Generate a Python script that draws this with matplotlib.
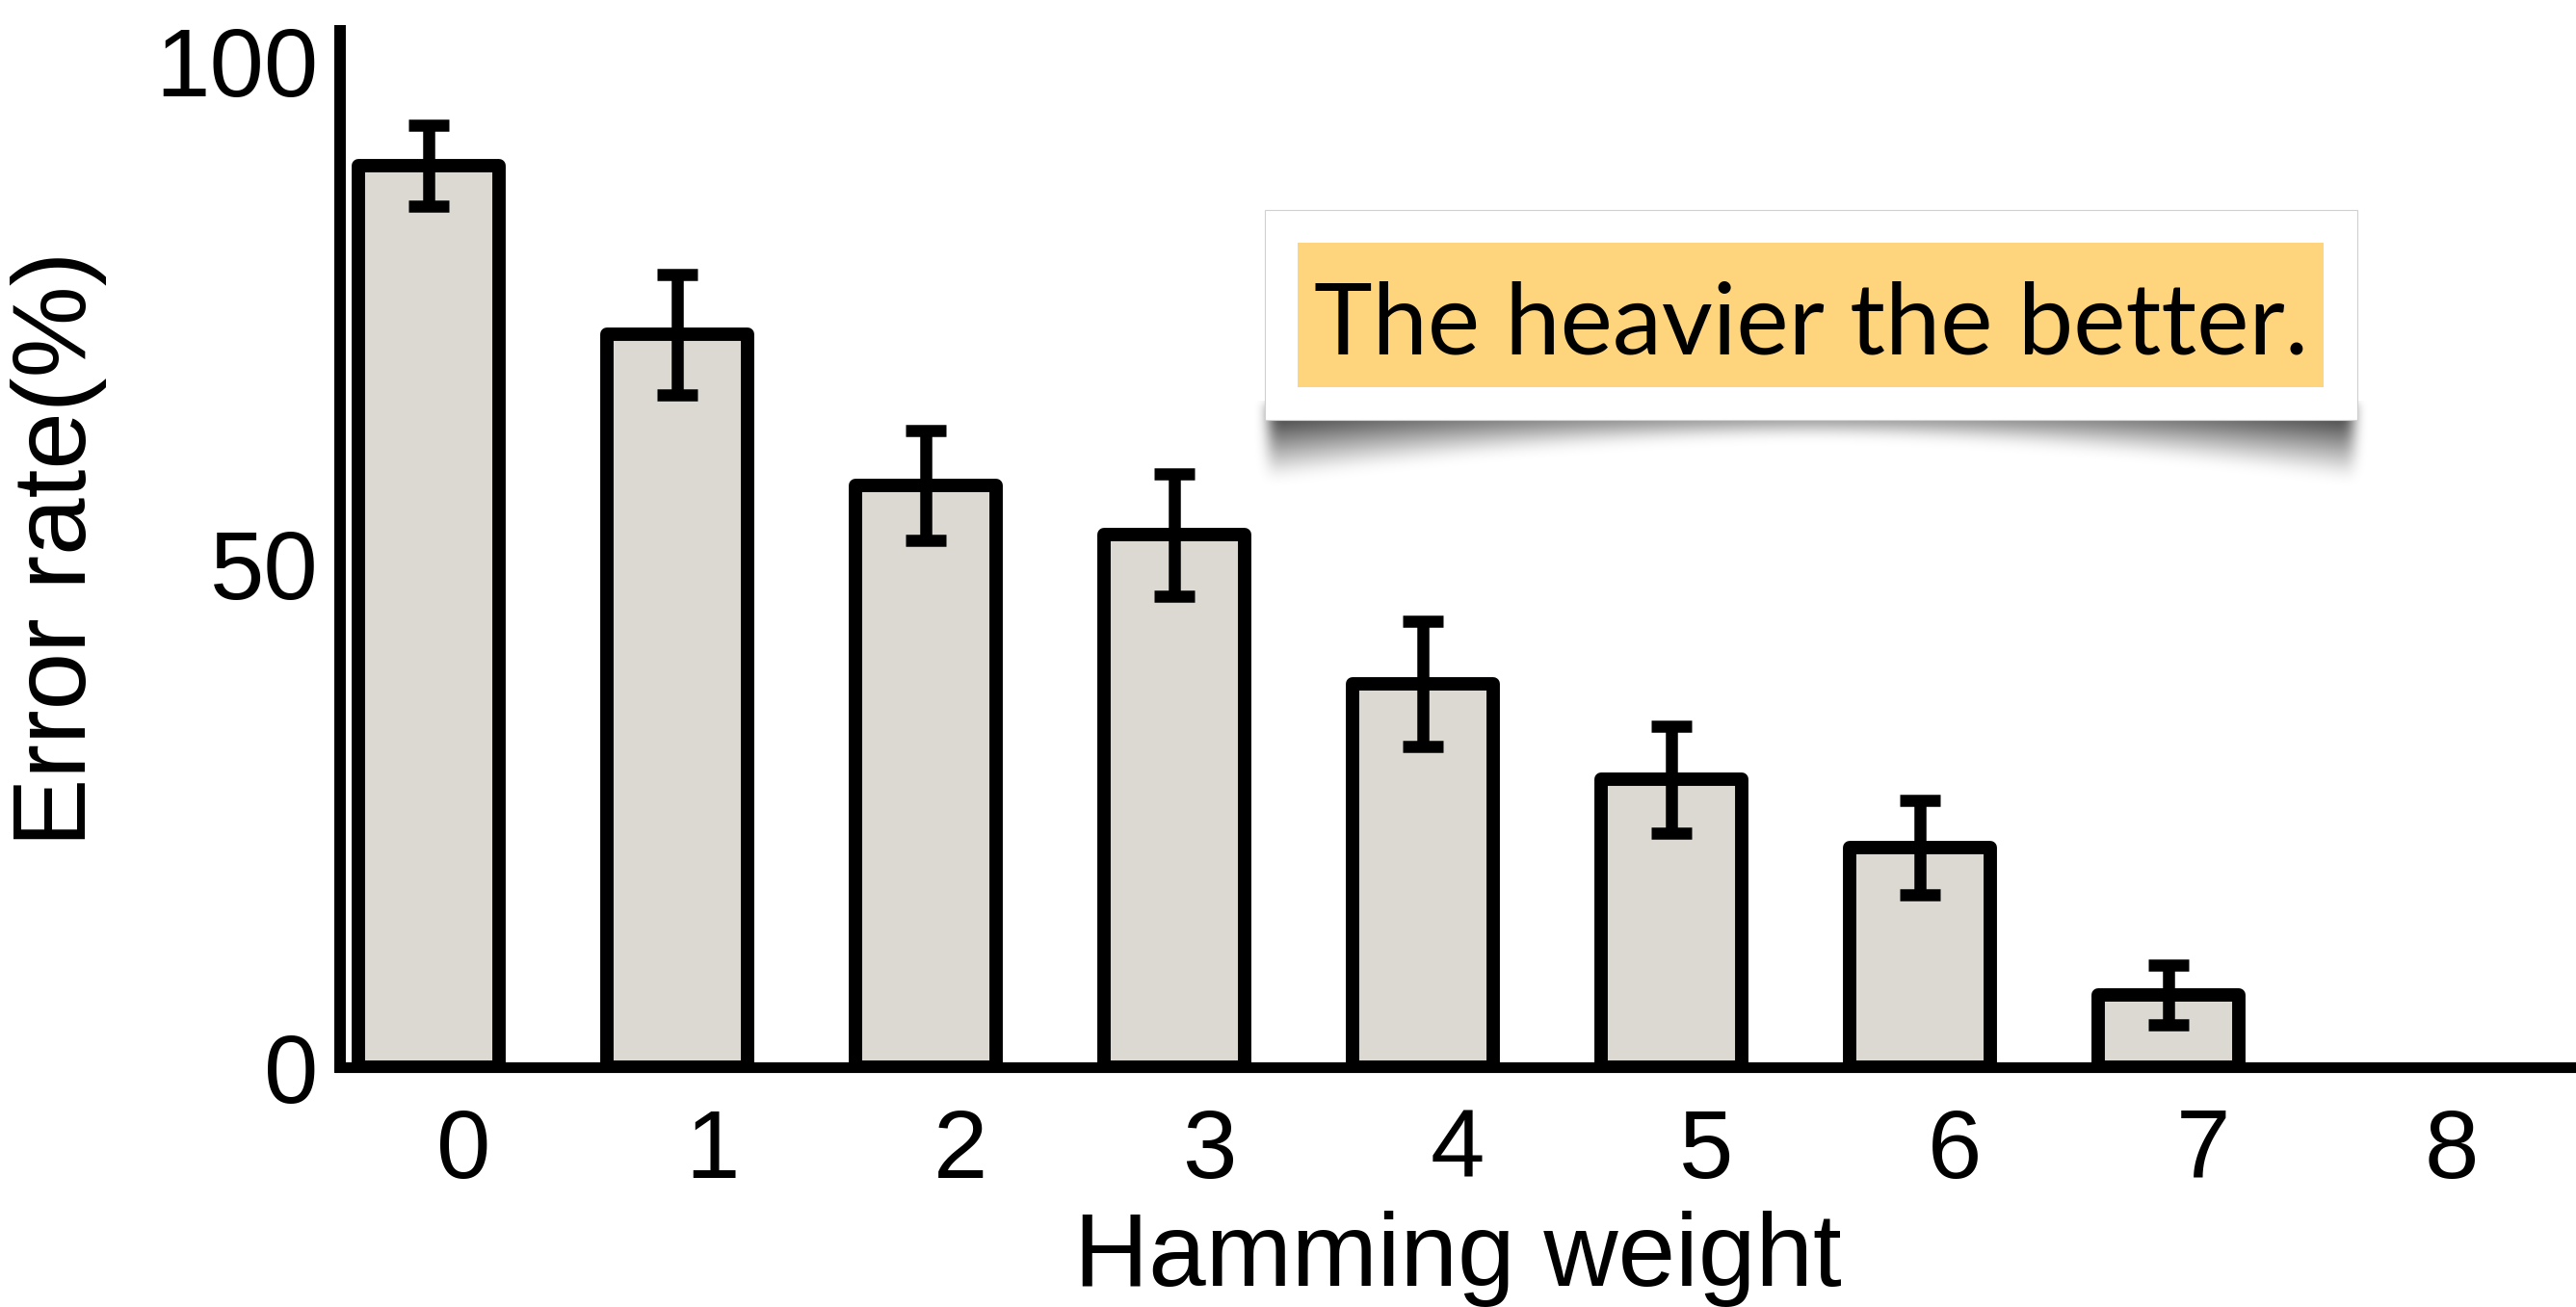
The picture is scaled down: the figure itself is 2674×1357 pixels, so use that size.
import numpy as np
import matplotlib.pyplot as plt
import matplotlib.transforms as mtransforms
from matplotlib.patches import Rectangle

# Данные
hamming_weight = [0, 1, 2, 3, 4, 5, 6, 7, 8]
error_rate = [89.6, 72.8, 57.8, 52.9, 38.1, 28.6, 21.8, 7.2, 0.0]
error_err = [4.0, 5.95, 5.45, 6.1, 6.2, 5.3, 4.7, 2.95, 0.0]
y_ticks = [0, 50, 100]
note_text = 'The heavier the better.'

W, H = 2674, 1357
fig = plt.figure(figsize=(W / 100, H / 100), dpi=100)
plt.rcParams['font.family'] = ['Liberation Sans', 'DejaVu Sans']

ax = fig.add_axes([353 / W, 1 - 1108 / H, 1 - 353 / W, (1108 - 32) / H])

x = np.array(hamming_weight)
y = np.array(error_rate)
e = np.array(error_err)
shown = y > 0

ax.bar(x[shown], y[shown], width=0.567, color='#dcd9d3', edgecolor='black',
       linewidth=10, joinstyle='round', zorder=2)
has_err = e > 0
ax.errorbar(x[has_err], y[has_err], yerr=e[has_err], fmt='none', ecolor='black',
            elinewidth=9, capsize=15, capthick=9, zorder=3)

ax.set_xlim(-0.357, 8.64)
ax.set_ylim(0, 103)
ax.set_xticks(hamming_weight)
ax.set_yticks(y_ticks)
ax.tick_params(axis='both', length=0, labelsize=73)
ax.tick_params(axis='x', pad=30)
ax.tick_params(axis='y', pad=16)

# подписи по оси x сдвинуты вправо относительно столбиков
offset = mtransforms.ScaledTranslation(0.36, 0, fig.dpi_scale_trans)
for lab in ax.get_xticklabels():
    lab.set_transform(lab.get_transform() + offset)

for side in ['top', 'right']:
    ax.spines[side].set_visible(False)
ax.spines['left'].set_linewidth(8.6)
ax.spines['bottom'].set_linewidth(8)

ax.set_xlabel('Hamming weight', fontsize=77)
ax.xaxis.label.set_va('baseline')
ax.xaxis.set_label_coords(0.5, (1108 - 1335) / 1076)
ax.set_ylabel('Error rate(%)', fontsize=77)
ax.yaxis.label.set_va('center')
ax.yaxis.set_label_coords((61 - 353) / (W - 353), 0.5)

# Выноска с тенью (в пиксельных координатах фигуры)
ov = fig.add_axes([0, 0, 1, 1], zorder=5)
ov.patch.set_alpha(0)

bx0, by0, bx1, by1 = 1313, 218, 2447, 436
xs = np.arange(bx0 - 40, bx1 + 41)
ys = np.arange(by1 - 20, by1 + 90)
t = np.clip((xs - bx0) / (bx1 - bx0), 0, 1)
edge = np.abs(2 * t - 1)
depth = 16 + 48 * edge ** 1.6
strength = 0.42 + 0.3 * edge ** 2
inside = (xs >= bx0 + 4) & (xs <= bx1 - 4)
yy = (ys[:, None] - by1) / depth[None, :]
alpha = np.clip(1 - yy, 0, 1) ** 1.1 * strength[None, :] * inside[None, :]
k = 13
kern = np.ones(k) / k
for _ in range(3):
    alpha = np.apply_along_axis(lambda r: np.convolve(r, kern, mode='same'), 1, alpha)
    alpha = np.apply_along_axis(lambda c: np.convolve(c, kern, mode='same'), 0, alpha)
shadow = np.zeros((len(ys), len(xs), 4))
shadow[..., 3] = alpha
ov.imshow(shadow, extent=(xs[0], xs[-1], ys[-1], ys[0]), aspect='auto',
          interpolation='bilinear', zorder=1)

ov.add_patch(Rectangle((bx0, by0), bx1 - bx0, by1 - by0, facecolor='white',
                       edgecolor='#d0d0d0', linewidth=0.8, zorder=2))
ov.add_patch(Rectangle((1347, 252), 2412 - 1347, 402 - 252, facecolor='#fed57c',
                       edgecolor='none', zorder=3))
txt = ov.text(1880, 367, note_text, ha='center', va='baseline', fontsize=80,
              family=['Lato', 'DejaVu Sans'], zorder=4)
ov.set_xlim(0, W)
ov.set_ylim(H, 0)
ov.axis('off')

# подгоняем размер шрифта под ширину ~1032 px
fig.canvas.draw()
wpx = txt.get_window_extent().width
txt.set_fontsize(80 * 1032 / wpx)

fig.savefig('out.png', dpi=100)
